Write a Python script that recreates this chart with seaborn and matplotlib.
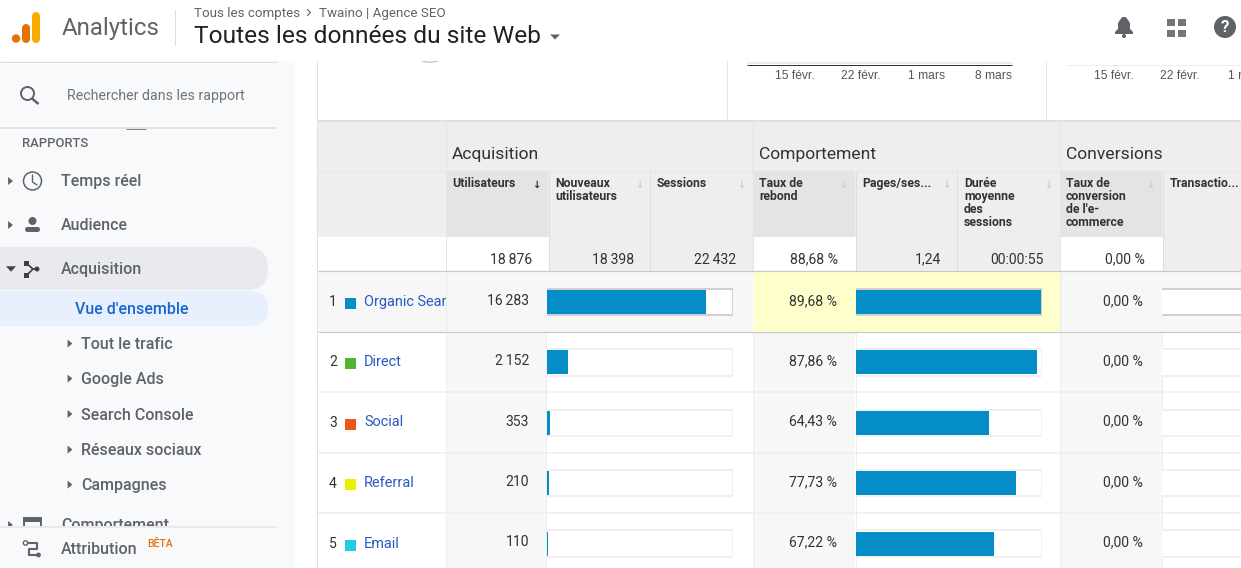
import numpy as np
import pandas as pd
import seaborn as sns
import matplotlib.pyplot as plt
from matplotlib.patches import Rectangle, FancyBboxPatch, Circle, Polygon

# table values
channels = ["Organic Search", "Direct", "Social", "Referral", "Email"]
users = [16283, 2152, 353, 210, 110]
bounce = [89.68, 87.86, 64.43, 77.73, 67.22]
conversion = [0.0, 0.0, 0.0, 0.0, 0.0]
swatches = ["#058dc7", "#50b432", "#ed561b", "#edef00", "#24cbe5"]
users_total = 18876
new_users_total = 18398
sessions_total = 22432
bounce_total = 88.68
pages_total = 1.24
duration_total = "00:00:55"
conversion_total = 0.0
date_ticks = ["15 févr.", "22 févr.", "1 mars", "8 mars"]

W, H = 1241, 568
BAR = "#058dc7"
GREY = "#5f6368"
DARK = "#333333"
LINK = "#2a56c6"
SIDE = "#f8f9fa"
HEAD = "#eeeeee"
HEAD_SEL = "#e4e4e4"
CELL = "#f7f7f7"


def fr_num(v):
    return f"{v:,}".replace(",", "\u2009")


def fr_pct(v):
    return f"{v:.2f} %".replace(".", ",")


sns.set_theme(style="white")
plt.rcParams["font.family"] = ["Roboto", "DejaVu Sans"]
fig = plt.figure(figsize=(W / 100, H / 100), dpi=100, facecolor="white")
ax = fig.add_axes([0, 0, 1, 1])
ax.set_xlim(0, W)
ax.set_ylim(H, 0)
ax.axis("off")


def box(x0, y0, x1, y1, color, z=1):
    ax.add_patch(Rectangle((x0, y0), x1 - x0, y1 - y0, fc=color, ec="none", lw=0, zorder=z))


def line(x0, y0, x1, y1, color, lw=1, z=3):
    ax.plot([x0, x1], [y0, y1], color=color, lw=lw * 0.72, zorder=z, solid_capstyle="butt")


def txt(x, y, s, px=13, color=DARK, ha="left", weight="normal", z=4, **kw):
    return ax.text(x, y + 1, s, fontsize=px * 0.72, color=color, ha=ha, va="center",
                   fontweight=weight, zorder=z, **kw)


def tri_right(x, y, color=GREY, s=4):
    ax.add_patch(Polygon([(x - s * 0.6, y - s), (x + s * 0.6, y), (x - s * 0.6, y + s)],
                         fc=color, ec="none", zorder=5))


def tri_down(x, y, color=GREY, s=5):
    ax.add_patch(Polygon([(x - s, y - s * 0.55), (x + s, y - s * 0.55), (x, y + s * 0.55)],
                         fc=color, ec="none", zorder=5))


# header
box(0, 0, W, 61, "white", 6)
ax.add_patch(Circle((16, 38.5), 4.2, fc="#e37400", ec="none", zorder=7))
for x0, y0, y1, c in [(26, 28, 39, "#e37400"), (36, 16, 39, "#f9ab00")]:
    ax.plot([x0, x0], [y0, y1], color=c, lw=8 * 0.72, solid_capstyle="round", zorder=7)
txt(62, 27.5, "Analytics", 24, GREY, z=7)
line(175, 10, 175, 45, "#dadce0", z=7)
txt(194, 12, "Tous les comptes", 13.4, GREY, z=7)
ax.plot([307.5, 310.5, 307.5], [9.5, 12.5, 15.5], color=GREY, lw=0.8, zorder=7)
txt(319, 12, "Twaino | Agence SEO", 13.4, GREY, z=7)
txt(194, 35.5, "Toutes les données du site Web", 24.5, "#202124", z=7)
ax.add_patch(Polygon([(550, 34.5), (560, 34.5), (555, 39.5)], fc=GREY, ec="none", zorder=7))

# bell, apps and help icons
ax.add_patch(Polygon([(1115, 34), (1133, 34), (1133, 32), (1130, 29), (1130, 23), (1127, 18.5),
                      (1125.5, 17), (1122.5, 17), (1121, 18.5), (1118, 23), (1118, 29), (1115, 32)],
                     fc=GREY, ec="none", zorder=7))
ax.add_patch(Circle((1124, 36), 2, fc=GREY, ec="none", zorder=7))
for bx in (1167, 1178):
    for by in (19, 30):
        box(bx, by, bx + 8, by + 7, "#757575", 7)
ax.add_patch(Circle((1225, 27), 11, fc=GREY, ec="none", zorder=7))
txt(1225, 26, "?", 17, "white", ha="center", weight="bold", z=8)

# sidebar
box(0, 61, 295, H, SIDE, 1)
line(0, 61.5, 277, 61.5, "#dadce0", z=7)
line(0, 127.5, 277, 127.5, "#dadce0", 1.5, z=3)
line(126, 129, 146, 129, "#888888", z=3)
ax.add_patch(Circle((27.5, 93.5), 6.5, fc="none", ec=GREY, lw=1.4, zorder=4))
line(32, 98.5, 38.5, 104, GREY, 2.5)
txt(67, 95, "Rechercher dans les rapport", 14.2, "#70757a")
txt(22, 142.5, "RAPPORTS", 13, GREY, weight="medium")

ax.add_patch(FancyBboxPatch((-40, 247), 308, 43, boxstyle="round,pad=0,rounding_size=21",
                            fc="#e8eaed", ec="none", zorder=2))
ax.add_patch(FancyBboxPatch((-40, 291), 308, 35, boxstyle="round,pad=0,rounding_size=17",
                            fc="#e8f0fe", ec="none", zorder=2))
for y, s in [(180.5, "Temps réel"), (224.5, "Audience"), (268.5, "Acquisition"), (524.5, "Comportement")]:
    txt(61, y, s, 16, GREY, weight="medium")
for y in (181, 225, 525):
    tri_right(10.5, y)
tri_down(11, 269, "#444444")
txt(75, 308.5, "Vue d'ensemble", 16, "#1967d2", weight="medium")
for y, s in [(343.6, "Tout le trafic"), (378.6, "Google Ads"), (414, "Search Console"),
             (449.6, "Réseaux sociaux"), (484.6, "Campagnes")]:
    txt(81, y, s, 16, GREY, weight="medium")
    tri_right(70, y)

# clock
ax.add_patch(Circle((32.5, 181), 9, fc="none", ec=GREY, lw=1.1, zorder=4))
ax.plot([32.5, 32.5, 37], [175, 182, 185], color=GREY, lw=1, zorder=4)
# person
ax.add_patch(Circle((32.5, 221), 4, fc=GREY, ec="none", zorder=4))
ax.add_patch(FancyBboxPatch((25, 227), 15, 5, boxstyle="round,pad=0,rounding_size=2.5", fc=GREY, ec="none", zorder=4))
# acquisition
ax.plot([26, 33, 26], [263, 269, 276], color="#3c4043", lw=1.2, zorder=4)
ax.plot([33, 38], [269, 269], color="#3c4043", lw=1.2, zorder=4)
box(24, 261, 28.5, 265.5, "#3c4043", 4)
box(24, 273, 28.5, 277.5, "#3c4043", 4)
ax.add_patch(Circle((37, 269), 2.5, fc="#3c4043", ec="none", zorder=4))
# comportement (cut by the footer)
ax.add_patch(Rectangle((24, 518), 17, 14, fc="none", ec=GREY, lw=1.4, zorder=4))
box(24, 518, 41, 522, GREY, 4)

box(0, 527, 295, H, SIDE, 5)
line(0, 527, 277, 527, "#e8eaed", 2, z=5)
txt(61, 549, "Attribution", 16, GREY, weight="medium", z=6)
txt(147, 543, "BÊTA", 10.5, "#e8710a", weight="medium", z=6)
ax.plot([25, 37, 37, 29, 29, 38], [543, 543, 549, 549, 555, 555], color=GREY, lw=1.5, zorder=6)
ax.add_patch(Circle((25.5, 543), 2.2, fc=SIDE, ec=GREY, lw=1, zorder=6))
ax.add_patch(Circle((38.5, 555), 2.4, fc=GREY, ec="none", zorder=6))

# area above the table
line(317.2, 61, 317.2, H, "#e0e0e0", z=3)
line(727, 61, 727, 120, "#e6e6e6")
line(1046, 61, 1046, 120, "#e6e6e6")
line(747, 63, 1012, 63, "#e8eef0", 2)
line(747, 64.5, 1012, 64.5, "#333333", 1)
line(1066, 64.5, W, 64.5, "#eeeeee", 1)
for x, s in zip((795, 861, 927, 993), date_ticks):
    txt(x, 75, s, 12, "#555555", ha="center", family="Liberation Sans")
for x, s in zip((1114, 1180, 1246), date_ticks):
    txt(x, 75, s, 12, "#555555", ha="center", family="Liberation Sans")
ax.plot(np.linspace(422, 438, 9), 61 + 1.2 * np.sin(np.linspace(0, np.pi, 9)), color="#bbbbbb", lw=0.8, zorder=3)

# table header
box(318, 120, W, 122, "#e0e0e0", 2)
box(318, 122, W, 237, HEAD, 2)
line(318, 171, W, 171, "#e6e6e6")
for x in (446, 753, 1060):
    line(x, 122, x, 271, "#e4e4e4")
for x, s in [(452, "Acquisition"), (759, "Comportement"), (1066, "Conversions")]:
    txt(x, 153.4, s, 17.5, DARK)

sel_cols = [(447, 548), (754, 855), (1061, 1162)]
for x0, x1 in sel_cols:
    box(x0, 171.5, x1, 237, HEAD_SEL, 2)
for x in (548.5, 650, 855.5, 957, 1162.5):
    line(x, 172, x, 271, "#dddddd")
headers = [(452, "Utilisateurs"), (555.5, "Nouveaux\nutilisateurs"), (657, "Sessions"),
           (759, "Taux de\nrebond"), (862.5, "Pages/ses..."), (964, "Durée\nmoyenne\ndes\nsessions"),
           (1066, "Taux de\nconversion\nde l'e-\ncommerce"), (1169.5, "Transactio...")]
for x, s in headers:
    ax.text(x, 177, s, fontsize=12.3 * 0.72, color=DARK, fontweight="bold", va="top",
            linespacing=1.0, zorder=4)
for x, c in [(536, "#333333"), (639, "#cccccc"), (741, "#cccccc"), (843, "#cccccc"),
             (946, "#cccccc"), (1048, "#cccccc"), (1150, "#cccccc")]:
    txt(x, 184, "↓", 10, c, ha="center", weight="bold", family="DejaVu Sans")

# totals row
box(318, 237, 446, 271, "white", 2)
box(550, 237, 753, 271, HEAD, 2)
box(857, 237, 1060, 271, HEAD, 2)
box(1164, 237, W, 271, HEAD, 2)
totals = [(532, fr_num(users_total)), (634, fr_num(new_users_total)), (736, fr_num(sessions_total)),
          (838, fr_pct(bounce_total)), (941, f"{pages_total:.2f}".replace(".", ",")),
          (1044, duration_total), (1145, fr_pct(conversion_total))]
for x, s in totals:
    txt(x, 258.5, s, 14, DARK, ha="right")

# rows
row_mid = [302, 362, 422.5, 483, 543.5]
row_edges = [271, 331.5, 392, 452.5, 513, H + 5]
for i, name in enumerate(channels):
    top, bot = row_edges[i], row_edges[i + 1]
    if i == 0:
        box(318, top, 754, bot, CELL, 2)
        box(754, top, 1061, bot, "#ffffcc", 2)
        box(1061, top, W, bot, CELL, 2)
    else:
        box(447, top, 546, bot, CELL, 2)
        box(754, top, 855, bot, CELL, 2)
        box(1061, top, 1162, bot, CELL, 2)
    y = row_mid[i]
    txt(329, y - 0.5, str(i + 1), 14, DARK)
    box(345, y - 4, 356, y + 7, swatches[i], 3)
    # names sit under the metric column so long ones get cut
    txt(364, y - 1, name, 14.5, LINK, z=3)
    txt(529, y - 2, fr_num(users[i]), 14, DARK, ha="right", z=5)
    txt(837, y - 2, fr_pct(bounce[i]), 14, DARK, ha="right", z=5)
    txt(1143, y - 2, fr_pct(conversion[i]), 14, DARK, ha="right", z=5)
box(446.5, 272, 546, 332, CELL, 3.5)
for y, c in [(271, "#c8c8c8"), (331.5, "#c8c8c8"), (392, "#eeeeee"), (452.5, "#eeeeee"), (513, "#eeeeee")]:
    line(318, y, W, y, c, 1.5 if c == "#eeeeee" else 1.2, z=4)
for x in (446, 546, 753, 856, 1060, 1162):
    line(x, 333, x, H, "#eeeeee", z=3)
line(446, 272, 446, 332, "#eaeaea", z=4)
line(1060, 272, 1060, 332, "#eaeaea", z=4)

# in-cell bars, the frame is a bit wider than the scale's 100 %
df = pd.DataFrame({"channel": channels, "users": users, "bounce": bounce, "conversion": conversion})
cols = [("users", 547, 733, users_total * 1.01), ("bounce", 856, 1042, max(bounce) * 1.007),
        ("conversion", 1162, 1348, 100)]
for col, x0, x1, top in cols:
    bar_ax = fig.add_axes([x0 / W, 1 - (271.8 + 5 * 60.4) / H, (x1 - x0) / W, 5 * 60.4 / H])
    bar_ax.patch.set_alpha(0)
    df["frame"] = top
    sns.barplot(data=df, x="frame", y="channel", orient="h", color="white", saturation=1,
                width=0.44, ax=bar_ax, edgecolor="#eeeeee", linewidth=1.2)
    bar_ax.patches[0].set_edgecolor("#c8c8c8")
    sns.barplot(data=df, x=col, y="channel", orient="h", color=BAR, saturation=1,
                width=0.40, ax=bar_ax, linewidth=0)
    # the conversion frames have no left edge in the table
    bar_ax.set_xlim(1 if col == "conversion" else 0, top)
    bar_ax.axis("off")

fig.savefig("out.png", dpi=100)
